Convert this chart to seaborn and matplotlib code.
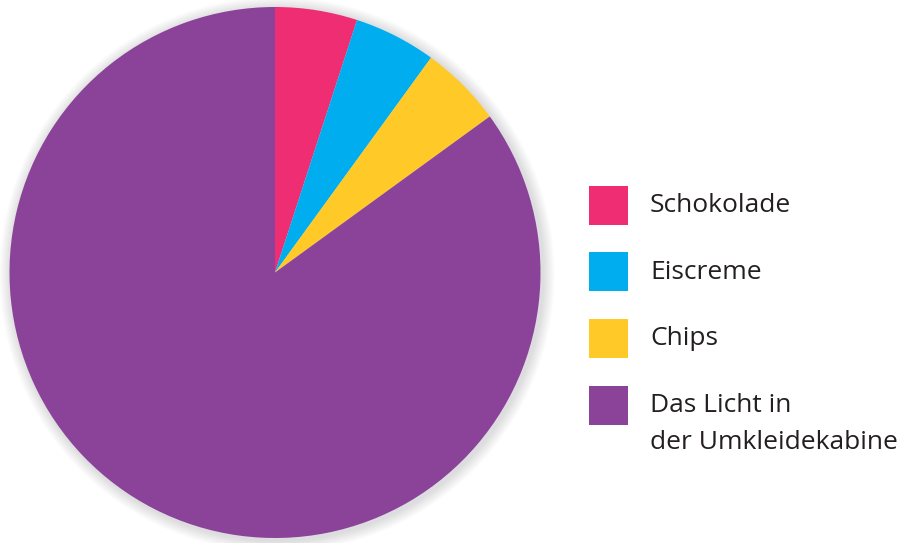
import matplotlib
matplotlib.use('Agg')
import matplotlib.pyplot as plt
import seaborn as sns
from matplotlib.patches import Circle, Rectangle

# ── Data ─────────────────────────────────────────────────────
labels = ['Schokolade', 'Eiscreme', 'Chips', 'Das Licht in\nder Umkleidekabine']
shares = [5, 5, 5, 85]
colors = ['#EF2D73', '#00AEEF', '#FFC928', '#8B4399']

sns.set_theme(style='white')
plt.rcParams['font.family'] = ['Open Sans', 'DejaVu Sans']

W, H = 904, 543
fig = plt.figure(figsize=(W / 100, H / 100), dpi=100)
ax = fig.add_axes([0, 0, 1, 1])

cx, cy, r = 275, H - 272.5, 265.5

# soft shadow behind the pie
for i in range(12):
    ax.add_patch(Circle((cx + 2, cy - 2), r + 12 - i, color='#9a9aa0',
                        alpha=0.028, lw=0, zorder=0))

ax.pie(shares, colors=colors, startangle=90, counterclock=False,
       center=(cx, cy), radius=r, frame=True,
       wedgeprops=dict(linewidth=0, antialiased=True))
ax.set_xlim(0, W)
ax.set_ylim(0, H)
ax.set_aspect('equal')
ax.axis('off')

# legend drawn by hand
sq = 39
x0 = 589
y_first = H - 205
step = 66.7
for i, (lab, col) in enumerate(zip(labels, colors)):
    yc = y_first - i * step
    ax.add_patch(Rectangle((x0, yc - sq / 2), sq, sq, color=col, lw=0,
                           zorder=3))
    ax.text(650, yc + 12, lab, ha='left', va='top', fontsize=19,
            color='#231F20', linespacing=1.62)

plt.savefig('out.png', dpi=100)
plt.close()
